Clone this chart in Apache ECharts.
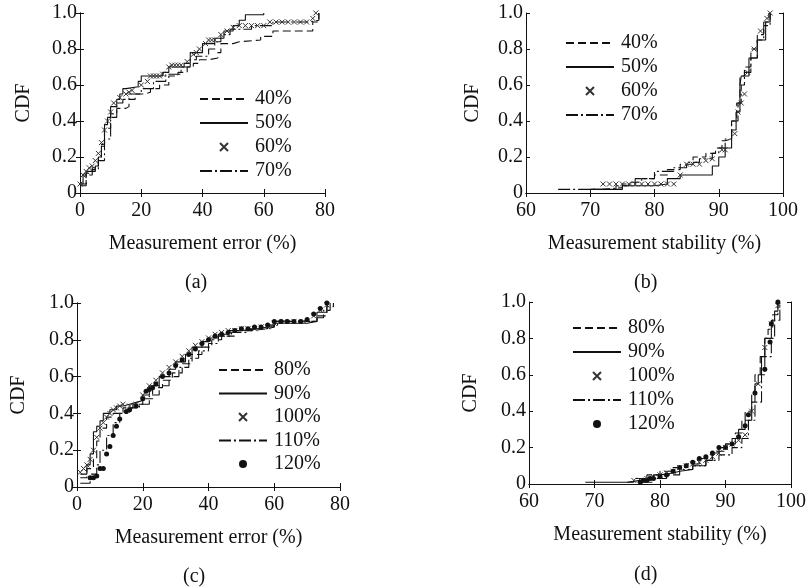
<!DOCTYPE html>
<html>
<head>
<meta charset="utf-8">
<script src="https://cdn.jsdelivr.net/npm/echarts@6/dist/echarts.min.js"></script>
<style>
  html, body { margin: 0; padding: 0; background: #fff; }
  #chart-container { width: 809px; height: 588px; }
</style>
</head>
<body>
<div id="chart-container"></div>
<script>
// panel (a): measurement error CDF, [error %, CDF]
var a40 = [[0,0.05],[2,0.11],[4,0.14],[6,0.2],[7,0.27],[8,0.36],[10,0.44],[12,0.47],[15,0.48],[16,0.52],[18,0.55],[21,0.56],[23,0.58],[26,0.6],[29,0.65],[32,0.67],[35,0.7],[37,0.72],[39,0.74],[42,0.75],[45,0.78],[46,0.83],[50,0.84],[52,0.85],[59,0.87],[63,0.9],[75,0.9],[76,0.95],[78,1.0]];
var a50 = [[0,0.05],[1,0.1],[2,0.12],[5,0.15],[6,0.2],[7,0.26],[8,0.38],[9,0.42],[10,0.48],[12,0.52],[13,0.55],[14,0.58],[15,0.59],[19,0.62],[20,0.65],[27,0.67],[29,0.7],[34,0.72],[36,0.78],[40,0.83],[44,0.86],[47,0.9],[50,0.93],[52,0.96],[54,0.99],[60,1.0]];
var a60 = [[0,0.05],[1,0.1],[2,0.12],[3,0.14],[4,0.15],[5,0.18],[6,0.22],[7,0.28],[8,0.35],[9,0.4],[10,0.45],[11,0.5],[13,0.53],[15,0.55],[16,0.56],[17,0.57],[20,0.6],[22,0.62],[23,0.65],[24,0.65],[25,0.65],[26,0.65],[27,0.66],[29,0.7],[30,0.71],[31,0.71],[32,0.71],[33,0.71],[35,0.73],[37,0.77],[38,0.78],[39,0.8],[41,0.83],[42,0.85],[43,0.85],[44,0.85],[46,0.88],[48,0.9],[50,0.92],[52,0.93],[54,0.93],[56,0.93],[58,0.93],[60,0.93],[62,0.95],[64,0.95],[66,0.95],[68,0.95],[70,0.95],[72,0.95],[74,0.95],[76,0.97],[77,1.0]];
var a70 = [[0,0.04],[2,0.1],[4,0.13],[6,0.18],[8,0.3],[10,0.42],[12,0.5],[14,0.52],[16,0.55],[20,0.58],[24,0.62],[28,0.66],[33,0.7],[36,0.74],[38,0.76],[42,0.8],[44,0.84],[46,0.88],[49,0.91],[56,0.93],[63,0.95],[75,0.96],[78,1.0]];

// panel (b): measurement stability CDF
var b40 = [[70,0.02],[74,0.04],[76,0.06],[78,0.08],[80,0.1],[82,0.13],[84,0.16],[86,0.2],[88,0.22],[89.5,0.25],[90.5,0.29],[91,0.3],[92,0.4],[92.8,0.5],[93.3,0.65],[94,0.7],[95,0.8],[96,0.88],[97,0.95],[97.8,1.0]];
var b50 = [[70,0.02],[75,0.04],[80,0.05],[82,0.08],[84,0.1],[87,0.1],[89,0.15],[90,0.2],[91,0.25],[92,0.35],[92.7,0.45],[93.3,0.6],[93.5,0.65],[94.7,0.75],[96,0.85],[97.3,0.95],[98,1.0]];
var b60 = [[72,0.05],[73,0.05],[74,0.05],[75,0.05],[76,0.05],[77,0.05],[78,0.05],[79,0.05],[80,0.05],[81,0.05],[82,0.05],[83,0.05],[84,0.1],[85,0.16],[86,0.16],[87,0.16],[88,0.18],[89,0.19],[90.5,0.24],[91,0.24],[92.5,0.33],[93,0.45],[93.5,0.5],[94,0.55],[94.5,0.67],[95.5,0.8],[96.5,0.9],[97.5,0.97],[98,1.0]];
var b70 = [[65,0.02],[70,0.02],[72,0.03],[75,0.05],[77,0.08],[80,0.12],[83,0.14],[85,0.17],[87,0.19],[89,0.22],[90,0.25],[91,0.3],[92,0.4],[93,0.5],[93.5,0.6],[94,0.67],[95,0.75],[96,0.85],[97,0.93],[98,1.0]];

// panel (c): measurement error CDF
var c80 = [[1,0.05],[3,0.1],[5,0.15],[6,0.25],[7,0.32],[9,0.38],[11,0.4],[14,0.43],[17,0.45],[20,0.48],[23,0.54],[26,0.58],[29,0.62],[32,0.67],[35,0.72],[38,0.76],[41,0.8],[44,0.82],[48,0.85],[53,0.86],[58,0.87],[60,0.9],[70,0.9],[73,0.93],[76,0.98],[78,1.0]];
var c90 = [[1,0.07],[3,0.12],[4,0.18],[5,0.3],[6,0.33],[7,0.36],[8,0.4],[10,0.42],[12,0.44],[14,0.45],[16,0.46],[18,0.47],[20,0.5],[22,0.55],[25,0.6],[28,0.64],[30,0.68],[33,0.72],[35,0.76],[38,0.79],[40,0.81],[43,0.83],[46,0.85],[50,0.86],[55,0.87],[58,0.87],[60,0.89],[70,0.9],[73,0.95],[76,1.0]];
var c100 = [[1,0.08],[2,0.1],[3,0.12],[4,0.15],[5,0.2],[6,0.27],[7,0.32],[8,0.35],[9,0.38],[10,0.4],[11,0.42],[12,0.43],[13,0.44],[14,0.45],[16,0.44],[18,0.45],[20,0.5],[22,0.55],[24,0.58],[26,0.62],[28,0.65],[30,0.68],[32,0.71],[34,0.74],[36,0.77],[38,0.79],[40,0.81],[42,0.83],[44,0.84],[46,0.85],[48,0.85],[50,0.86],[52,0.86],[54,0.86],[56,0.87],[58,0.87],[60,0.89],[63,0.9],[66,0.9],[69,0.9],[72,0.93],[74,0.96],[76,0.99]];
var c110 = [[1,0.02],[4,0.07],[6,0.12],[7,0.2],[9,0.28],[11,0.35],[13,0.4],[16,0.43],[19,0.45],[22,0.5],[25,0.55],[28,0.6],[31,0.65],[34,0.7],[37,0.74],[40,0.78],[43,0.82],[47,0.84],[52,0.86],[58,0.88],[61,0.9],[70,0.9],[73,0.92],[75,0.96],[77,1.0]];
var c120 = [[4,0.05],[5,0.05],[6,0.06],[7,0.1],[8,0.1],[9,0.18],[10,0.22],[11,0.28],[12,0.33],[13,0.37],[15,0.41],[16,0.42],[18,0.44],[20,0.48],[21,0.52],[22,0.53],[23,0.54],[24,0.56],[26,0.6],[28,0.62],[30,0.66],[32,0.69],[34,0.72],[36,0.75],[38,0.78],[40,0.8],[42,0.82],[44,0.83],[46,0.84],[48,0.85],[50,0.86],[52,0.86],[54,0.87],[56,0.87],[58,0.88],[60,0.9],[62,0.9],[64,0.9],[66,0.9],[68,0.9],[70,0.91],[72,0.94],[74,0.97],[76,1.0]];

// panel (d): measurement stability CDF
var d80 = [[75,0.01],[76,0.03],[78,0.05],[80,0.07],[82,0.09],[84,0.11],[86,0.14],[88,0.18],[90,0.22],[91.5,0.28],[92.5,0.35],[93,0.4],[94,0.5],[94.5,0.6],[95.3,0.7],[96,0.8],[96.5,0.85],[97.2,0.93],[98,1.0]];
var d90 = [[68.6,0.01],[75,0.02],[77,0.03],[79,0.05],[80,0.06],[82,0.07],[83,0.08],[85,0.1],[87,0.13],[88,0.17],[89,0.2],[90,0.22],[91,0.25],[92,0.3],[93,0.35],[94,0.45],[94.5,0.55],[95,0.6],[95.5,0.7],[96,0.8],[97,0.9],[97.5,0.95],[98,1.0]];
var d100 = [[76,0.02],[77,0.02],[78,0.03],[79,0.04],[80,0.05],[81,0.06],[82,0.07],[83,0.09],[84,0.1],[85,0.11],[86,0.12],[87,0.13],[88,0.15],[89,0.17],[90,0.2],[91,0.22],[92,0.24],[93,0.27],[94,0.4],[95,0.55],[96,0.75],[97,0.88],[98,0.98]];
var d110 = [[77,0.01],[79,0.03],[81,0.05],[83,0.08],[85,0.1],[87,0.13],[89,0.16],[91,0.2],[92.5,0.25],[93.5,0.35],[94.5,0.45],[95.5,0.6],[96,0.7],[97,0.8],[97.5,0.9],[98.3,1.0]];
var d120 = [[77,0.01],[77.5,0.02],[78,0.02],[78.5,0.03],[79,0.03],[80,0.04],[81,0.05],[82,0.07],[83,0.09],[84,0.1],[85,0.12],[86,0.14],[87,0.15],[88,0.17],[89,0.2],[90,0.2],[91,0.22],[92,0.26],[93,0.32],[93.5,0.38],[94.5,0.5],[96,0.63],[96.8,0.78],[97,0.88],[98,1.0]];

var legendA = ['40%', '50%', '60%', '70%'];
var legendC = ['80%', '90%', '100%', '110%', '120%'];
var markerNames = ['60%', '100%', '120%'];

var FONT = '"Liberation Serif", "Times New Roman", serif';
var FS = 20;
var INK = '#111';
var CROSS = 'path://M0,0L10,10M10,0L0,10';

var dom = document.getElementById('chart-container');
var myChart = echarts.init(dom, null, { renderer: 'canvas' });

var grids = [
  { left: 80, top: 13, width: 245, height: 180 },
  { left: 526, top: 13, width: 257, height: 180 },
  { left: 77, top: 303, width: 263, height: 184 },
  { left: 529, top: 302, width: 269, height: 182 }
];
var xRange = [[0, 80, 20], [60, 100, 10], [0, 80, 20], [60, 100, 10]];
var xNames = ['Measurement error (%)', 'Measurement stability (%)', 'Measurement error (%)', 'Measurement stability (%)'];
var yGap = [46, 43, 48, 48];

var xAxes = [], yAxes = [];
grids.forEach(function (g, i) {
  var r = xRange[i];
  xAxes.push({
    type: 'value', gridIndex: i, min: r[0], max: r[1], interval: r[2],
    name: xNames[i], nameLocation: 'middle', nameGap: 41,
    nameTextStyle: { fontFamily: FONT, fontSize: FS, color: INK },
    axisLine: { lineStyle: { color: INK, width: 1 } },
    axisTick: { inside: true, length: 4, lineStyle: { color: INK } },
    axisLabel: { fontFamily: FONT, fontSize: FS, color: INK, margin: 8 },
    splitLine: { show: false }
  });
  yAxes.push({
    type: 'value', gridIndex: i, min: 0, max: 1, interval: 0.2,
    name: 'CDF', nameLocation: 'middle', nameGap: yGap[i],
    nameTextStyle: { fontFamily: FONT, fontSize: FS, color: INK },
    axisLine: { show: true, lineStyle: { color: INK, width: 1 } },
    axisTick: { show: true, inside: true, length: 4, lineStyle: { color: INK } },
    axisLabel: {
      fontFamily: FONT, fontSize: FS, color: INK, margin: 3,
      formatter: function (v) { return v === 0 ? '0' : v.toFixed(1); }
    },
    splitLine: { show: false }
  });
});
// mirrored axes on top and right with inward ticks
grids.forEach(function (g, i) {
  var r = xRange[i];
  xAxes.push({
    type: 'value', gridIndex: i, position: 'top', min: r[0], max: r[1], interval: r[2],
    axisLine: { lineStyle: { color: INK, width: 1 } },
    axisTick: { inside: true, length: 4, lineStyle: { color: INK } },
    axisLabel: { show: false }, splitLine: { show: false }
  });
  yAxes.push({
    type: 'value', gridIndex: i, position: 'right', min: 0, max: 1, interval: 0.2,
    axisLine: { show: true, lineStyle: { color: INK, width: 1 } },
    axisTick: { show: true, inside: true, length: 4, lineStyle: { color: INK } },
    axisLabel: { show: false }, splitLine: { show: false }
  });
});

function lineSeries(name, data, idx, dash) {
  return {
    type: 'line', name: name, data: data, xAxisIndex: idx, yAxisIndex: idx,
    step: 'end', symbol: 'none', silent: true, animation: false,
    lineStyle: { color: INK, width: 1.1, type: dash },
    itemStyle: { color: INK }
  };
}
function markSeries(name, data, idx, symbol, size) {
  return {
    type: 'line', name: name, data: data, xAxisIndex: idx, yAxisIndex: idx,
    symbol: symbol, symbolSize: size, showSymbol: true, silent: true, animation: false,
    lineStyle: { width: 0, color: INK },
    itemStyle: symbol === CROSS
      ? { color: 'none', borderColor: '#333', borderWidth: 1 }
      : { color: INK }
  };
}

var DASH = [8, 4];
var DASHDOT = [12, 3, 2, 3];

var series = [
  lineSeries('40%', a40, 0, DASH),
  lineSeries('50%', a50, 0, 'solid'),
  markSeries('60%', a60, 0, CROSS, 5),
  lineSeries('70%', a70, 0, DASHDOT),
  lineSeries('40%', b40, 1, DASH),
  lineSeries('50%', b50, 1, 'solid'),
  markSeries('60%', b60, 1, CROSS, 5),
  lineSeries('70%', b70, 1, DASHDOT),
  lineSeries('80%', c80, 2, DASH),
  lineSeries('90%', c90, 2, 'solid'),
  markSeries('100%', c100, 2, CROSS, 5),
  lineSeries('110%', c110, 2, DASHDOT),
  markSeries('120%', c120, 2, 'circle', 5),
  lineSeries('80%', d80, 3, DASH),
  lineSeries('90%', d90, 3, 'solid'),
  markSeries('100%', d100, 3, CROSS, 5),
  lineSeries('110%', d110, 3, DASHDOT),
  markSeries('120%', d120, 3, 'circle', 5)
];

function legend(names, left, top, gap) {
  return {
    data: names.map(function (n) {
      // hide the centre marker on pure line entries
      return markerNames.indexOf(n) >= 0 ? n : { name: n, itemStyle: { opacity: 0 } };
    }),
    left: left, top: top, orient: 'vertical', padding: 0,
    itemWidth: 48, itemHeight: 10, itemGap: gap, selectedMode: false,
    textStyle: { fontFamily: FONT, fontSize: FS, color: INK, padding: [0, 0, 0, 2] }
  };
}

var option = {
  backgroundColor: '#fff',
  animation: false,
  grid: grids,
  xAxis: xAxes,
  yAxis: yAxes,
  legend: [
    legend(legendA, 199, 89, 4),
    legend(legendA, 565, 33, 4),
    legend(legendC, 218, 360, 3.5),
    legend(legendC, 572, 318, 4)
  ],
  graphic: [
    { type: 'text', left: 185, top: 273, style: { text: '(a)', font: FS + 'px ' + FONT, fill: INK } },
    { type: 'text', left: 634, top: 273, style: { text: '(b)', font: FS + 'px ' + FONT, fill: INK } },
    { type: 'text', left: 183, top: 567, style: { text: '(c)', font: FS + 'px ' + FONT, fill: INK } },
    { type: 'text', left: 634, top: 565, style: { text: '(d)', font: FS + 'px ' + FONT, fill: INK } }
  ],
  series: series
};

myChart.setOption(option);
window.addEventListener('resize', myChart.resize);
</script>
</body>
</html>
